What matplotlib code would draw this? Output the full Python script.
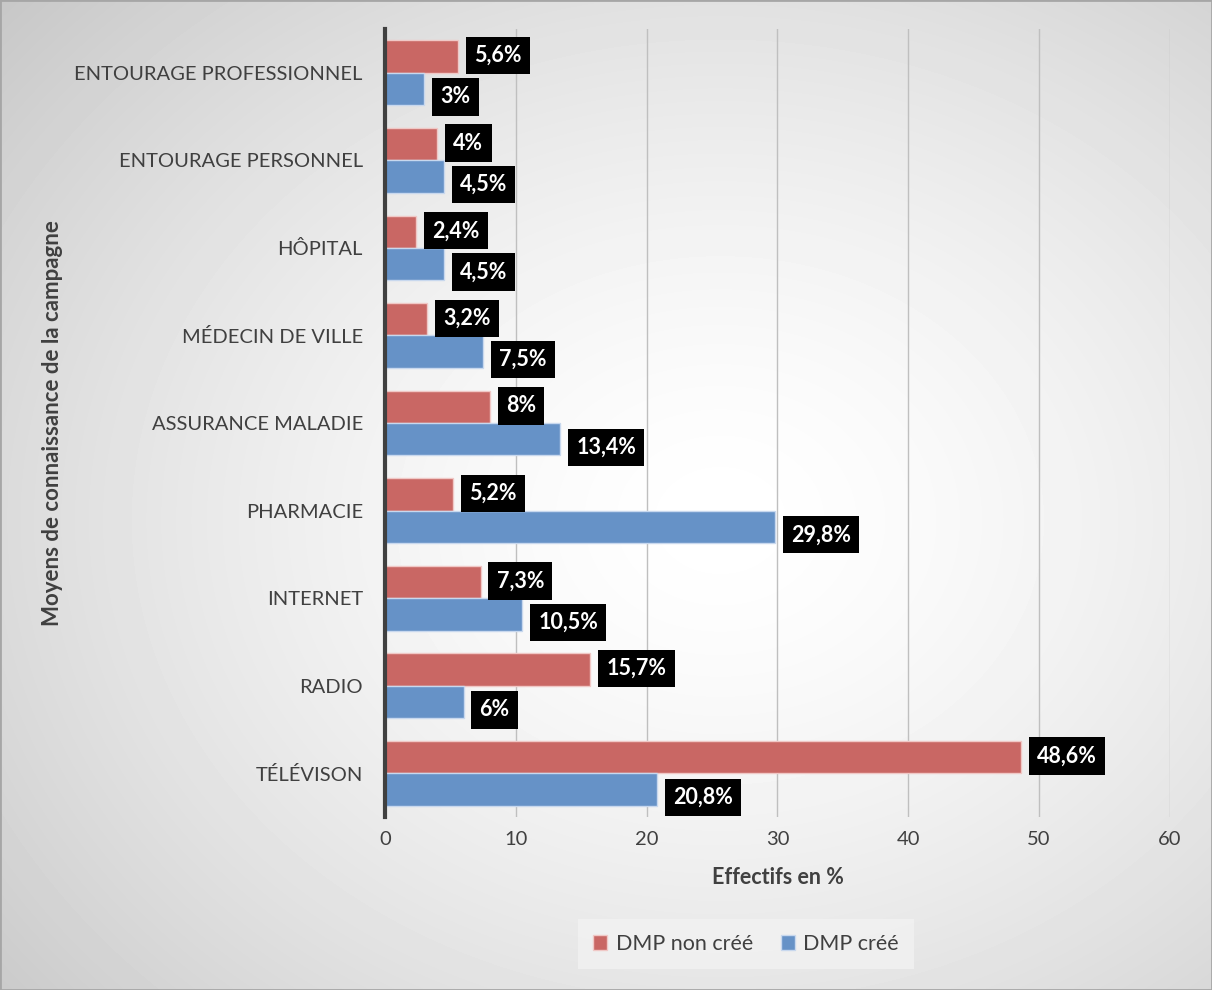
import numpy as np
import matplotlib
matplotlib.use('Agg')
import matplotlib.pyplot as plt
from matplotlib.patches import Rectangle

plt.rcParams['font.family'] = ['Lato', 'DejaVu Sans']

# Données (de bas en haut)
categories = ['TÉLÉVISON', 'RADIO', 'INTERNET', 'PHARMACIE', 'ASSURANCE MALADIE',
              'MÉDECIN DE VILLE', 'HÔPITAL', 'ENTOURAGE PERSONNEL', 'ENTOURAGE PROFESSIONNEL']
dmp_non_cree = [48.6, 15.7, 7.3, 5.2, 8, 3.2, 2.4, 4, 5.6]
dmp_cree = [20.8, 6, 10.5, 29.8, 13.4, 7.5, 4.5, 4.5, 3]
xticks = [0, 10, 20, 30, 40, 50, 60]

rouge = '#c96764'
bleu = '#6692c7'
gris = '#404040'

fig = plt.figure(figsize=(12.12, 9.9), dpi=100)

# fond en dégradé radial
bg = fig.add_axes([0, 0, 1, 1], zorder=-10)
yy, xx = np.mgrid[0:990, 0:1212]
d = np.sqrt(((xx - 720) / 1212) ** 2 + ((yy - 520) / 990) ** 2)
d = d / d.max()
img = 1.0 - 0.22 * d ** 1.5
bg.imshow(img, cmap='gray', vmin=0, vmax=1, extent=[0, 1, 0, 1], aspect='auto')
bg.add_patch(Rectangle((0, 0), 1, 1, transform=bg.transAxes, fill=False,
                       ec='#a6a6a6', lw=2))
bg.axis('off')

ax = fig.add_axes([0.3177, 0.1747, 0.6476, 0.7960])
ax.patch.set_alpha(0)

y = np.arange(len(categories))
h = 0.37
ax.barh(y + h / 2, dmp_non_cree, height=h, color=rouge, edgecolor='#f0c8c6',
        lw=1, label='DMP non créé', zorder=3)
ax.barh(y - h / 2, dmp_cree, height=h, color=bleu, edgecolor='#c8d8ee',
        lw=1, label='DMP créé', zorder=3)

def fmt(v):
    s = ('%g' % v).replace('.', ',')
    return s + '%'

for i in range(len(categories)):
    ax.annotate(fmt(dmp_non_cree[i]), xy=(dmp_non_cree[i], y[i] + h / 2),
                xytext=(16, 1), textcoords='offset pixels', ha='left', va='center',
                color='white', fontsize=15.5, fontweight='bold', zorder=5,
                bbox=dict(boxstyle='square,pad=0.38', fc='black', ec='none'))
    ax.annotate(fmt(dmp_cree[i]), xy=(dmp_cree[i], y[i] - h / 2),
                xytext=(16, -8), textcoords='offset pixels', ha='left', va='center',
                color='white', fontsize=15.5, fontweight='bold', zorder=5,
                bbox=dict(boxstyle='square,pad=0.38', fc='black', ec='none'))

ax.set_xlim(0, 60)
ax.set_ylim(-0.5, len(categories) - 0.5)
ax.set_xticks(xticks)
ax.set_yticks(y)
ax.set_yticklabels(categories)
ax.tick_params(axis='both', length=0, labelsize=14.5, labelcolor=gris)
ax.tick_params(axis='x', pad=10)
ax.tick_params(axis='y', pad=16)
ax.grid(axis='x', color='#bfbfbf', lw=1, zorder=0)
for s in ['top', 'right', 'bottom']:
    ax.spines[s].set_visible(False)
ax.spines['left'].set_color(gris)
ax.spines['left'].set_linewidth(3)
ax.spines['left'].set_zorder(4)

ax.set_xlabel('Effectifs en %', fontsize=15.5, fontweight='bold', color=gris, labelpad=14)
fig.text(0.043, 0.573, 'Moyens de connaissance de la campagne', rotation=90,
         ha='center', va='center', fontsize=16, fontweight='bold', color=gris)

leg = fig.legend(loc='center', bbox_to_anchor=(0.6155, 0.0465), ncol=2, frameon=True,
                 fontsize=15.5, handlelength=0.65, handleheight=0.65, columnspacing=1.3,
                 handletextpad=0.4, borderpad=0.7, fancybox=False)
leg.get_frame().set_facecolor('#f2f2f2')
leg.get_frame().set_edgecolor('none')
leg.get_frame().set_alpha(0.8)
for t in leg.get_texts():
    t.set_color(gris)

fig.savefig('out.png', dpi=100)
